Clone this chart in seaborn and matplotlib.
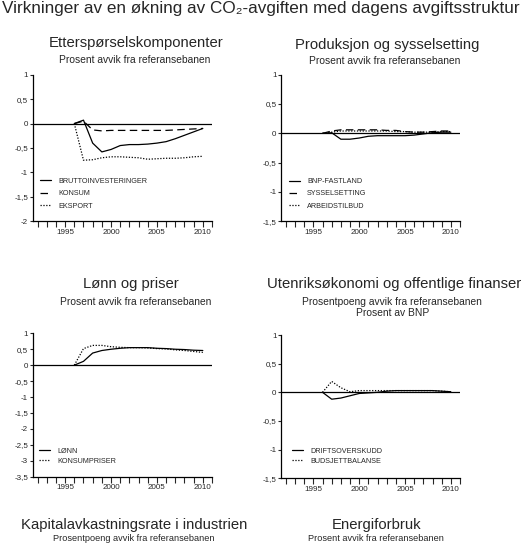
import matplotlib
matplotlib.use("Agg")
import matplotlib.pyplot as plt
import seaborn as sns

# =========================
# Data (lest av figuren)
# =========================
aar = list(range(1996, 2011))

brutto = [0, 0.07, -0.40, -0.58, -0.53, -0.45, -0.43, -0.43, -0.42, -0.40, -0.37, -0.31, -0.24, -0.17, -0.10]
konsum = [0, 0.05, -0.13, -0.15, -0.14, -0.14, -0.14, -0.14, -0.14, -0.14, -0.14, -0.13, -0.12, -0.11, -0.10]
eksport = [0, -0.75, -0.74, -0.70, -0.68, -0.68, -0.69, -0.70, -0.73, -0.72, -0.71, -0.71, -0.70, -0.68, -0.67]

bnp = [0, 0.01, -0.10, -0.10, -0.08, -0.05, -0.04, -0.04, -0.04, -0.04, -0.03, -0.01, 0.01, 0.02, 0.02]
syssel = [0, 0.04, 0.06, 0.06, 0.06, 0.06, 0.06, 0.05, 0.05, 0.03, 0.02, 0.02, 0.03, 0.04, 0.04]
arbeid = [0, 0.02, 0.04, 0.04, 0.04, 0.04, 0.04, 0.04, 0.03, 0.03, 0.02, 0.02, 0.02, 0.03, 0.03]

lonn = [0, 0.12, 0.38, 0.46, 0.50, 0.53, 0.55, 0.55, 0.55, 0.53, 0.52, 0.50, 0.49, 0.47, 0.46]
kpi = [0, 0.52, 0.62, 0.62, 0.58, 0.56, 0.55, 0.55, 0.54, 0.52, 0.51, 0.48, 0.46, 0.43, 0.40]

drift = [0, -0.12, -0.10, -0.06, -0.02, -0.01, 0.00, 0.02, 0.03, 0.03, 0.03, 0.03, 0.03, 0.02, 0.01]
budsjett = [0, 0.19, 0.08, 0.01, 0.03, 0.03, 0.03, 0.03, 0.03, 0.03, 0.03, 0.03, 0.03, 0.02, 0.01]

x_ticks = list(range(1992, 2012))
x_labels = [str(a) if a % 5 == 0 else "" for a in x_ticks]

y_ticks_2 = [1, 0.5, 0, -0.5, -1, -1.5, -2]
y_labels_2 = ["1", "0,5", "0", "-0,5", "-1", "-1,5", "-2"]
y_ticks_15 = [1, 0.5, 0, -0.5, -1, -1.5]
y_labels_15 = ["1", "0,5", "0", "-0,5", "-1", "-1,5"]
y_ticks_35 = [1, 0.5, 0, -0.5, -1, -1.5, -2, -2.5, -3, -3.5]
y_labels_35 = ["1", "0,5", "0", "-0,5", "-1", "-1,5", "-2", "-2,5", "-3", "-3,5"]

# =========================
# Oppsett
# =========================
sns.set_style("white")
plt.rcParams["font.family"] = ["Liberation Sans", "DejaVu Sans"]

W, H = 523, 543
fig = plt.figure(figsize=(W / 100, H / 100), dpi=100)

HEL = "-"
STIPLET = (0, (6, 3.5))
PRIKK = (0, (1, 1.3))


def piksel(l, t, r, b):
    return [l / W, 1 - b / H, (r - l) / W, (b - t) / H]


def tekst(x, y, s, size, **kw):
    fig.text(x / W, 1 - y / H, s, ha="center", va="center", fontsize=size, **kw)


def tegn_panel(boks, serier, ylim, yticks, ylabels, anker, radavstand):
    ax = fig.add_axes(piksel(*boks))
    for navn, verdier, stil in serier:
        sns.lineplot(x=aar, y=verdier, ax=ax, color="black", lw=0.9,
                     linestyle=stil, label=navn)
    ax.axhline(0, color="black", lw=0.9)
    ax.set_xlim(1991.5, 2011)
    ax.set_ylim(*ylim)
    ax.set_xticks(x_ticks)
    ax.set_xticklabels(x_labels)
    ax.set_yticks(yticks)
    ax.set_yticklabels(ylabels)
    for s in ["top", "right"]:
        ax.spines[s].set_visible(False)
    for s in ["left", "bottom"]:
        ax.spines[s].set_linewidth(0.9)
        ax.spines[s].set_color("black")
    ax.tick_params(axis="x", direction="out", length=4, width=0.8,
                   labelsize=5.8, pad=1.5, bottom=True)
    ax.tick_params(axis="y", direction="out", length=2.5, width=0.8,
                   labelsize=5.8, pad=1, left=True)
    ax.set_xlabel("")
    ax.set_ylabel("")
    ax.legend(loc="lower left", bbox_to_anchor=anker, frameon=False,
              fontsize=5.2, handlelength=1.5, handletextpad=1.0,
              labelspacing=radavstand, borderpad=0, borderaxespad=0)
    return ax


# =========================
# Tekster
# =========================
tekst(261, 9, "Virkninger av en økning av CO₂-avgiften med dagens avgiftsstruktur", 12.3)

tekst(136, 43, "Etterspørselskomponenter", 10.7)
tekst(135, 60, "Prosent avvik fra referansebanen", 7.4)
tekst(387, 45, "Produksjon og sysselsetting", 10.7)
tekst(385, 61, "Prosent avvik fra referansebanen", 7.4)

tekst(131, 284, "Lønn og priser", 10.7)
tekst(136, 302, "Prosent avvik fra referansebanen", 7.4)
tekst(394, 284, "Utenriksøkonomi og offentlige finanser", 10.7)
tekst(392, 302, "Prosentpoeng avvik fra referansebanen", 7.4)
tekst(393, 313, "Prosent av BNP", 7.4)

tekst(134, 525.5, "Kapitalavkastningsrate i industrien", 10.7)
tekst(134, 538.5, "Prosentpoeng avvik fra referansebanen", 6.6)
tekst(377, 525.5, "Energiforbruk", 10.7)
tekst(376, 538.5, "Prosent avvik fra referansebanen", 6.6)

# =========================
# Paneler
# =========================
tegn_panel((33, 74.7, 212, 221.3),
           [("BRUTTOINVESTERINGER", brutto, HEL),
            ("KONSUM", konsum, STIPLET),
            ("EKSPORT", eksport, PRIKK)],
           (-2, 1), y_ticks_2, y_labels_2, (0.04, 0.08), 0.75)

tegn_panel((281.3, 74.7, 460, 221.3),
           [("BNP-FASTLAND", bnp, HEL),
            ("SYSSELSETTING", syssel, STIPLET),
            ("ARBEIDSTILBUD", arbeid, PRIKK)],
           (-1.5, 1), y_ticks_15, y_labels_15, (0.043, 0.08), 0.7)

tegn_panel((33, 333.3, 212, 476.7),
           [("LØNN", lonn, HEL),
            ("KONSUMPRISER", kpi, PRIKK)],
           (-3.5, 1), y_ticks_35, y_labels_35, (0.034, 0.082), 0.45)

tegn_panel((281.3, 335, 460, 478.3),
           [("DRIFTSOVERSKUDD", drift, HEL),
            ("BUDSJETTBALANSE", budsjett, PRIKK)],
           (-1.5, 1), y_ticks_15, y_labels_15, (0.06, 0.093), 0.45)

fig.savefig("out.png", dpi=100)
